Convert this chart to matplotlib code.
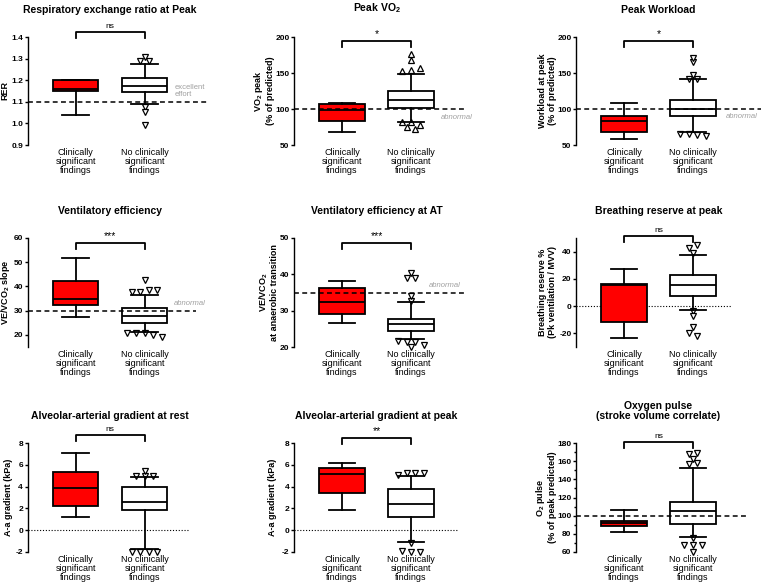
import matplotlib
matplotlib.use("Agg")
import matplotlib.pyplot as plt
import numpy as np
from matplotlib.ticker import MultipleLocator, FormatStrFormatter

plt.rcParams['font.family'] = ['Liberation Sans', 'DejaVu Sans']
plt.rcParams['mathtext.fontset'] = 'custom'
plt.rcParams['mathtext.rm'] = 'Liberation Sans'
plt.rcParams['mathtext.bf'] = 'Liberation Sans:bold'
plt.rcParams['mathtext.default'] = 'bf'
plt.rcParams['axes.unicode_minus'] = False

CATEGORIES = ["Clinically\nsignificant\nfindings", "No clinically\nsignificant\nfindings"]

# per group: whisker low, q1, median, q3, whisker high
rer_box = [[1.04, 1.148, 1.16, 1.20, 1.20], [1.092, 1.146, 1.174, 1.211, 1.275]]
vo2_box = [[68.5, 83.0, 99.0, 106.3, 109.0], [82.5, 101.7, 112.3, 125.2, 149.2]]
work_box = [[58.3, 68.5, 83.2, 90.2, 108.2], [68.5, 90.2, 99.9, 112.3, 141.4]]
slope_box = [[27.5, 32.4, 35.0, 42.3, 51.7], [21.1, 25.1, 28.0, 30.9, 36.3]]
at_box = [[26.6, 29.2, 32.3, 36.3, 38.2], [22.1, 24.5, 26.2, 27.8, 32.5]]
reserve_box = [[-23.2, -11.6, 15.8, 16.3, 26.9], [-3.0, 7.7, 15.8, 22.5, 37.3]]
rest_box = [[1.18, 2.25, 3.84, 5.31, 7.05], [-1.72, 1.82, 2.56, 3.93, 4.88]]
peak_box = [[1.82, 3.41, 5.19, 5.68, 6.17], [-1.08, 1.18, 2.43, 3.81, 5.0]]
pulse_box = [[82.0, 89.0, 91.9, 93.8, 105.9], [76.1, 90.8, 104.8, 114.7, 152.1]]

# outliers, only the "no clinically significant findings" group has them
rer_out = [1.307, 1.287, 1.287, 1.075, 1.055, 0.993]
vo2_out = [176, 167.7, 157, 154.7, 152.5, 81.5, 81.5, 77.7, 74.5, 71.7]
work_out = [171.4, 165.4, 147.5, 141.4, 141.4, 65, 65, 64.5, 62.3]
slope_out = [42.5, 38.6, 38.4, 37.8, 37.7, 20.7, 20.7, 20.7, 20.0, 19.3]
at_out = [40.3, 38.9, 38.9, 34.0, 32.6, 21.6, 21.4, 21.4, 20.6, 20.0]
reserve_out = [44.7, 42.5, 39.3, -3.5, -6.9, -15.5, -19.8, -22.0]
rest_out = [5.46, 5.0, 5.0, 4.94, -2.0, -2.0, -2.0, -2.0]
peak_out = [5.24, 5.24, 5.24, 5.06, -1.17, -1.93, -2.0, -2.0]
pulse_out = [169, 168.3, 162.8, 158, 157.2, 75.5, 68, 67.3, 67.3, 60]

SIG = ["ns", "*", "*", "***", "***", "ns", "ns", "**", "ns"]

# lab = centre of the y label, in pixels left of the axis line
panels = [
    dict(title="Respiratory exchange ratio at Peak", ylabel="RER", box=rer_box, out=rer_out,
         ylim=(0.9, 1.4), step=0.1, fmt='%.1f', marker='v', bracket=1.046, lab=23.5,
         ref=(1.1, '--', 2.94), note=("excellent\neffort", 2.43, 3, False)),
    dict(title="Peak VO$_2$", ylabel="VO$_2$ peak\n(% of predicted)", box=vo2_box, out=vo2_out,
         ylim=(50, 200), step=50, fmt='%d', marker='^', bracket=0.963, lab=31,
         ref=(100, '--', 2.78), note=("abnormal", 2.43, -6, True)),
    dict(title="Peak Workload", ylabel="Workload at peak\n(% of predicted)", box=work_box, out=work_out,
         ylim=(50, 200), step=50, fmt='%d', marker='v', bracket=0.963, lab=29,
         ref=(100, '--', 3.0), note=("abnormal", 2.48, -5.5, True)),
    dict(title="Ventilatory efficiency", ylabel="VE/VCO$_2$ slope", box=slope_box, out=slope_out,
         ylim=(15, 60), step=10, fmt='%d', marker='v', bracket=0.954, lab=22,
         ref=(30, '--', 2.75), note=("abnormal", 2.43, 5, True)),
    dict(title="Ventilatory efficiency at AT", ylabel="VE/VCO$_2$\nat anaerobic transition", box=at_box, out=at_out,
         ylim=(20, 50), step=10, fmt='%d', marker='v', bracket=0.954, lab=26,
         ref=(35, '--', 2.78), note=("abnormal", 2.26, 5, True)),
    dict(title="Breathing reserve at peak", ylabel="Breathing reserve %\n(Pk ventilation / MVV)", box=reserve_box,
         out=reserve_out, ylim=(-30, 50), step=20, fmt='%d', marker='v', bracket=1.018, lab=29,
         ref=(0, ':', 2.57), note=None),
    dict(title="Alveolar-arterial gradient at rest", ylabel="A-a gradient (kPa)", box=rest_box, out=rest_out,
         ylim=(-2, 8), step=2, fmt='%d', marker='v', bracket=1.073, lab=19,
         ref=(0, ':', 2.65), note=None),
    dict(title="Alveolar-arterial gradient at peak", ylabel="A-a gradient (kPa)", box=peak_box, out=peak_out,
         ylim=(-2, 8), step=2, fmt='%d', marker='v', bracket=1.046, lab=21.7,
         ref=(0, ':', 2.67), note=None),
    dict(title="Oxygen pulse\n(stroke volume correlate)", ylabel="O$_2$ pulse\n(% of peak predicted)",
         box=pulse_box, out=pulse_out, ylim=(60, 180), step=20, fmt='%d', marker='v', bracket=1.009, lab=31,
         ref=(100, '--', 2.78), note=None, minor=10),
]

STEP = 0.125  # sideways spacing of crowded outliers
XLIM = (0.31, 3.0)


def spread(values, median, span):
    # outliers closer than about one marker height sit side by side
    xs, ys = [], []
    for above in (True, False):
        side = sorted([v for v in values if (v > median) == above], reverse=not above)
        groups = []
        for v in side:
            if groups and abs(v - groups[-1][0]) < 0.037 * span:
                groups[-1].append(v)
            else:
                groups.append([v])
        for g in groups:
            for i, v in enumerate(g):
                xs.append(2 + (i - (len(g) - 1) / 2) * STEP)
                ys.append(v)
    return xs, ys


W, H = 761, 588
fig = plt.figure(figsize=(W / 100, H / 100), dpi=100)

col_left = [27.9, 294.4, 576.4]
row_bottom = [145, 347, 552]
row_height = [108, 109, 109]
ax_width = (XLIM[1] - XLIM[0]) * 69

for k, p in enumerate(panels):
    r, c = divmod(k, 3)
    ax = fig.add_axes([col_left[c] / W, 1 - row_bottom[r] / H, ax_width / W, row_height[r] / H])

    stats = [dict(whislo=b[0], q1=b[1], med=b[2], q3=b[3], whishi=b[4], fliers=[]) for b in p['box']]
    lw = 1.3
    art = ax.bxp(stats, positions=[1, 2], widths=0.66, capwidths=0.38, patch_artist=True,
                 showfliers=False,
                 boxprops=dict(linewidth=lw, edgecolor='black'),
                 whiskerprops=dict(linewidth=lw, color='black'),
                 capprops=dict(linewidth=lw, color='black'),
                 medianprops=dict(linewidth=lw, color='black'))
    art['boxes'][0].set_facecolor('#ff0000')
    art['boxes'][1].set_facecolor('white')

    span = p['ylim'][1] - p['ylim'][0]
    fx, fy = spread(p['out'], p['box'][1][2], span)
    ax.plot(fx, fy, linestyle='none', marker=p['marker'], markersize=4, markerfacecolor='white',
            markeredgecolor='black', markeredgewidth=0.9, zorder=1.5, clip_on=False)

    ry, rstyle, rend = p['ref']
    if rstyle == '--':
        ax.plot([XLIM[0], rend], [ry, ry], color='black', linestyle=(0, (3.2, 2.2)), linewidth=1.1, zorder=5)
    else:
        ax.plot([XLIM[0], rend], [ry, ry], color='black', linestyle=(0, (1, 1.6)), linewidth=0.8, zorder=0.5)

    if p['note']:
        text, nx, off, italic = p['note']
        ax.annotate(text, xy=(nx, ry), xytext=(0, off), textcoords='offset points',
                    ha='left', va='center' if italic else 'bottom', fontsize=5.5, color='#a0a0a0',
                    style='italic' if italic else 'normal', linespacing=1.0)

    # significance bracket
    tr = ax.get_xaxis_transform()
    b = p['bracket']
    ax.plot([1, 1, 2, 2], [b - 0.057, b, b, b - 0.057], color='black', linewidth=lw,
            transform=tr, clip_on=False)
    ax.text(1.5, b + 0.015, SIG[k], transform=tr, ha='center', va='bottom',
            fontsize=6 if SIG[k] == 'ns' else 7.5)

    ax.text(1.5, 1.20, p['title'], transform=tr, ha='center', va='bottom', fontsize=7.5,
            fontweight='bold', linespacing=1.0)

    for i, cat in enumerate(CATEGORIES):
        ax.text(i + 1, -0.03, cat, transform=tr, ha='center', va='top', fontsize=6.5, linespacing=1.0)

    ax.set_xlim(*XLIM)
    ax.set_ylim(*p['ylim'])
    lo = np.ceil(p['ylim'][0] / p['step'] - 1e-9) * p['step']
    ax.set_yticks(np.arange(lo, p['ylim'][1] + p['step'] / 2, p['step']))
    ax.yaxis.set_major_formatter(FormatStrFormatter(p['fmt']))
    if 'minor' in p:
        ax.yaxis.set_minor_locator(MultipleLocator(p['minor']))
        ax.tick_params(axis='y', which='minor', length=1.6, width=1.0)
    ax.set_xticks([])
    for s in ['top', 'right', 'bottom']:
        ax.spines[s].set_visible(False)
    ax.spines['left'].set_linewidth(1.0)
    ax.tick_params(axis='y', which='major', length=2.5, width=1.0, pad=1.0, labelsize=6)
    for lab in ax.get_yticklabels():
        lab.set_fontweight('bold')
    ax.set_ylabel(p['ylabel'], fontsize=6.5, fontweight='bold', linespacing=1.05, va='center')
    ax.yaxis.set_label_coords(-p['lab'] / ax_width, 0.5)
    ax.patch.set_alpha(0)

fig.savefig("out.png", dpi=100)
